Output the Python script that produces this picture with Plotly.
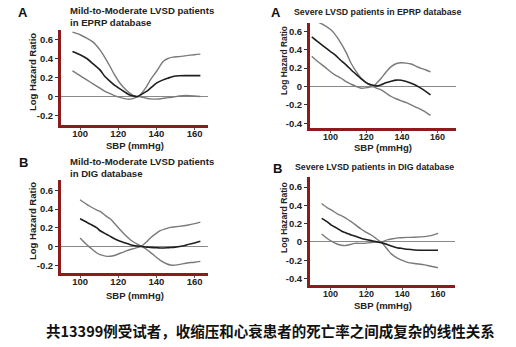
import plotly.graph_objects as go

# ---------------- data ----------------
# Panel A-left: Mild-to-Moderate LVSD, EPRP
p1_x = [96, 100, 103.5, 107, 110.4, 113, 115.7, 118, 120.9, 124, 126, 128, 130, 132, 134.8, 137, 140, 143.5, 146, 148.7, 152, 155.7, 160, 163]
p1_up = [0.677, 0.65, 0.614, 0.57, 0.49, 0.41, 0.316, 0.23, 0.14, 0.07, 0.035, 0.01, -0.005, 0.03, 0.105, 0.18, 0.263, 0.368, 0.40, 0.414, 0.42, 0.43, 0.44, 0.446]
p1_mid = [0.474, 0.44, 0.40, 0.34, 0.28, 0.21, 0.16, 0.12, 0.08, 0.04, 0.015, 0.005, 0.0, 0.02, 0.053, 0.09, 0.14, 0.175, 0.193, 0.21, 0.218, 0.22, 0.22, 0.22]
p1_lo = [0.27, 0.22, 0.175, 0.13, 0.088, 0.055, 0.03, 0.01, -0.01, -0.025, -0.028, -0.02, 0.0, -0.005, -0.018, -0.025, -0.028, -0.02, -0.012, -0.007, 0.005, 0.01, 0.005, 0.0]

# Panel A-right: Severe LVSD, EPRP
p2_x = [89.5, 93, 96.6, 100, 102.2, 106, 109, 111.6, 114.5, 117.2, 121, 123.7, 126, 128.4, 131, 134, 137, 139.6, 142.5, 145.2, 148, 150.8, 153.5, 156]
p2_up = [0.73, 0.70, 0.665, 0.62, 0.575, 0.467, 0.36, 0.25, 0.16, 0.09, 0.029, 0.0, 0.04, 0.09, 0.155, 0.216, 0.25, 0.259, 0.255, 0.245, 0.22, 0.198, 0.18, 0.16]
p2_mid = [0.54, 0.485, 0.43, 0.38, 0.35, 0.28, 0.23, 0.18, 0.13, 0.083, 0.03, 0.015, 0.007, 0.02, 0.04, 0.058, 0.07, 0.068, 0.054, 0.035, 0.012, -0.02, -0.055, -0.09]
p2_lo = [0.33, 0.27, 0.216, 0.16, 0.13, 0.09, 0.05, 0.025, 0.0, -0.018, -0.01, 0.0, -0.02, -0.036, -0.07, -0.108, -0.135, -0.155, -0.175, -0.2, -0.225, -0.25, -0.28, -0.313]

# Panel B-left: Mild-to-Moderate LVSD, DIG
p3_x = [100, 103.5, 105.3, 108.8, 110.5, 114, 115.8, 117.5, 121, 122.8, 126.3, 128, 131.6, 132.5, 135, 136.8, 140.4, 142, 145.6, 147.4, 149, 154.4, 156, 160, 163]
p3_up = [0.5, 0.45, 0.428, 0.39, 0.375, 0.32, 0.297, 0.26, 0.18, 0.14, 0.074, 0.05, 0.01, 0.0, -0.032, -0.06, -0.12, -0.145, -0.184, -0.195, -0.198, -0.18, -0.173, -0.165, -0.156]
p3_lo = [0.092, 0.02, -0.01, -0.067, -0.085, -0.103, -0.102, -0.096, -0.07, -0.057, -0.03, -0.021, 0.0, 0.01, 0.055, 0.092, 0.15, 0.17, 0.195, 0.205, 0.21, 0.223, 0.228, 0.245, 0.262]
p3_mid = [0.297, 0.26, 0.24, 0.2, 0.17, 0.13, 0.11, 0.09, 0.057, 0.045, 0.021, 0.012, 0.004, 0.002, -0.005, -0.007, -0.012, -0.014, -0.012, -0.009, -0.007, 0.01, 0.021, 0.04, 0.057]

# Panel B-right: Severe LVSD, DIG
p4_x = [95, 98.5, 100.4, 104, 106, 107.8, 111.5, 113.4, 117, 119, 122.7, 124.6, 127.3, 128.3, 132, 133.9, 137.6, 139.4, 143, 146.9, 152.5, 156, 160]
p4_up = [0.42, 0.37, 0.35, 0.305, 0.287, 0.27, 0.222, 0.195, 0.142, 0.115, 0.076, 0.05, 0.011, 0.0, -0.087, -0.13, -0.178, -0.195, -0.222, -0.235, -0.25, -0.265, -0.28]
p4_mid = [0.258, 0.215, 0.185, 0.145, 0.12, 0.105, 0.076, 0.065, 0.04, 0.03, 0.015, 0.008, -0.004, -0.007, -0.03, -0.044, -0.065, -0.069, -0.08, -0.087, -0.091, -0.091, -0.091]
p4_lo = [0.087, 0.033, 0.01, -0.025, -0.035, -0.04, -0.025, -0.015, -0.015, -0.015, -0.006, -0.004, -0.002, 0.0, 0.025, 0.033, 0.045, 0.047, 0.05, 0.051, 0.058, 0.07, 0.095]

x_ticks = [100, 120, 140, 160]
y_ticks_a = [-0.2, 0, 0.2, 0.4, 0.6]
y_ticks_b = [-0.4, -0.2, 0, 0.2, 0.4, 0.6]

panel_letters = ["A", "A", "B", "B"]
panel_titles = [
    "Mild-to-Moderate LVSD patients<br>in EPRP database",
    "Severe LVSD patients in EPRP database",
    "Mild-to-Moderate LVSD patients<br>in DIG database",
    "Severe LVSD patients in DIG database",
]
y_title = "Log Hazard Ratio"
x_title = "SBP (mmHg)"
caption = "共13399例受试者，收缩压和心衰患者的死亡率之间成复杂的线性关系"

# ---------------- layout helpers ----------------
W, H = 516, 347
FONT = "Liberation Sans, Arial, sans-serif"
AXC = "#8c1c1c"
BAND = "#7a7a7a"
MID = "#1e1e1e"

panels = [
    dict(x=p1_x, up=p1_up, mid=p1_mid, lo=p1_lo, xr=[90, 167], yr=[-0.3, 0.7], yt=y_ticks_a,
         dom_x=(61, 208), dom_y=(30, 125), letter=(23, 13), title=(68, 17, 9.6),
         ytitle=(33, 72, 9.5), xtitle=(135, 145), xtick=9.5),
    dict(x=p2_x, up=p2_up, mid=p2_mid, lo=p2_lo, xr=[88.5, 170.3], yr=[-0.45, 0.69], yt=y_ticks_b,
         dom_x=(310, 456), dom_y=(23, 128), letter=(276, 13), title=(292, 12, 8.8),
         ytitle=(284, 61, 8.4), xtitle=(383, 148), xtick=9),
    dict(x=p3_x, up=p3_up, mid=p3_mid, lo=p3_lo, xr=[90, 167], yr=[-0.28, 0.71], yt=y_ticks_a,
         dom_x=(61, 208), dom_y=(180, 273), letter=(23, 162), title=(68, 167, 9.6),
         ytitle=(33, 221, 9.5), xtitle=(135, 295), xtick=9.5),
    dict(x=p4_x, up=p4_up, mid=p4_mid, lo=p4_lo, xr=[88.5, 169.5], yr=[-0.47, 0.71], yt=y_ticks_b,
         dom_x=(310, 455), dom_y=(177, 285), letter=(277, 168), title=(293, 167, 8.8),
         ytitle=(284, 218, 8.6), xtitle=(383, 305), xtick=9),
]

def fmt(v):
    return "0" if v == 0 else ("%.1f" % v)

fig = go.Figure()
layout = dict(
    width=W, height=H, margin=dict(l=0, r=0, t=0, b=0),
    paper_bgcolor="white", plot_bgcolor="white", showlegend=False,
)
annotations = []

for i, p in enumerate(panels):
    n = i + 1
    xa = "x" if n == 1 else f"x{n}"
    ya = "y" if n == 1 else f"y{n}"
    for ys, col, w in [(p["up"], BAND, 1.4), (p["lo"], BAND, 1.4), (p["mid"], MID, 1.6)]:
        fig.add_trace(go.Scatter(x=p["x"], y=ys, mode="lines", xaxis=xa, yaxis=ya,
                                 line=dict(color=col, width=w, shape="spline", smoothing=0.8),
                                 hoverinfo="skip"))
    x0, x1 = p["dom_x"]
    y0, y1 = p["dom_y"]
    layout["xaxis" if n == 1 else f"xaxis{n}"] = dict(
        domain=[x0 / W, x1 / W], range=p["xr"], anchor=ya,
        tickvals=x_ticks, ticktext=[str(t) for t in x_ticks],
        tickfont=dict(family=FONT, size=p["xtick"], color="#222", weight="bold"),
        showgrid=False, zeroline=False, showline=True, linecolor=AXC, linewidth=3,
        ticks="outside", ticklen=2, tickcolor="#555", tickwidth=1,
        ticklabelstandoff=-4,
    )
    layout["yaxis" if n == 1 else f"yaxis{n}"] = dict(
        domain=[1 - y1 / H, 1 - y0 / H], range=p["yr"], anchor=xa,
        tickvals=p["yt"], ticktext=[fmt(t) for t in p["yt"]],
        tickfont=dict(family=FONT, size=9.5, color="#222", weight="bold"),
        showgrid=False, zeroline=True, zerolinecolor="#8a8a8a", zerolinewidth=1,
        showline=True, linecolor=AXC, linewidth=3,
        ticks="outside", ticklen=3, tickcolor="#333", tickwidth=1,
    )
    lx, ly = p["letter"]
    annotations.append(dict(x=lx / W, y=1 - ly / H, xref="paper", yref="paper",
                            text="<b>%s</b>" % panel_letters[i], showarrow=False,
                            xanchor="center", yanchor="middle",
                            font=dict(family=FONT, size=13, color="#111")))
    tx, ty, ts = p["title"]
    annotations.append(dict(x=tx / W, y=1 - ty / H, xref="paper", yref="paper",
                            text="<b>%s</b>" % panel_titles[i], showarrow=False,
                            xanchor="left", yanchor="middle", align="left",
                            font=dict(family=FONT, size=ts, color="#222")))
    ytx, ytc, yts = p["ytitle"]
    annotations.append(dict(x=ytx / W, y=1 - ytc / H, xref="paper", yref="paper",
                            text="<b>%s</b>" % y_title, showarrow=False, textangle=-90,
                            xanchor="center", yanchor="middle",
                            font=dict(family=FONT, size=yts, color="#222")))
    xtx, xty = p["xtitle"]
    annotations.append(dict(x=xtx / W, y=1 - xty / H, xref="paper", yref="paper",
                            text="<b>%s</b>" % x_title, showarrow=False,
                            xanchor="center", yanchor="middle",
                            font=dict(family=FONT, size=9.5, color="#222")))

annotations.append(dict(x=270 / W, y=1 - 330 / H, xref="paper", yref="paper",
                        text="<b>%s</b>" % caption, showarrow=False,
                        xanchor="center", yanchor="middle",
                        font=dict(family="Noto Sans CJK SC, sans-serif", size=14.5, color="#111")))

layout["annotations"] = annotations
fig.update_layout(**layout)
fig.write_html("out.html")
